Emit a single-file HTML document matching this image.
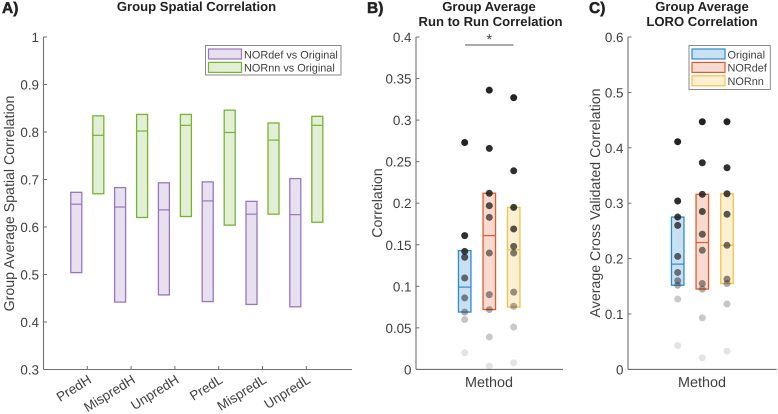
<!DOCTYPE html>
<html>
<head>
<meta charset="utf-8">
<style>
html,body{margin:0;padding:0;background:#fff;}
svg{display:block;font-family:"Liberation Sans",sans-serif;text-rendering:geometricPrecision;filter:blur(0.3px);}
</style>
</head>
<body>
<svg id="fig" xmlns="http://www.w3.org/2000/svg" width="778" height="414" viewBox="0 0 778 414"></svg>
<script>
const conditions = ['PredH','MispredH','UnpredH','PredL','MispredL','UnpredL'];
const defLow = [0.504,0.442,0.457,0.443,0.437,0.432];
const defMed = [0.648,0.642,0.636,0.655,0.627,0.626];
const defHigh = [0.673,0.683,0.693,0.695,0.654,0.702];
const nnLow = [0.670,0.620,0.622,0.604,0.627,0.610];
const nnMed = [0.793,0.802,0.814,0.799,0.783,0.814];
const nnHigh = [0.834,0.837,0.837,0.846,0.819,0.833];
const aTicks = [0.3,0.4,0.5,0.6,0.7,0.8,0.9,1];
const aTickLabels = ['0.3','0.4','0.5','0.6','0.7','0.8','0.9','1'];

const bTicks = [0,0.05,0.1,0.15,0.2,0.25,0.3,0.35,0.4];
const bTickLabels = ['0','0.05','0.1','0.15','0.2','0.25','0.3','0.35','0.4'];
const bOriginal = [0.273,0.161,0.142,0.135,0.110,0.086,0.069,0.060,0.020];
const bNordef = [0.336,0.266,0.212,0.197,0.183,0.140,0.090,0.072,0.039,0.004];
const bNornn = [0.327,0.239,0.195,0.169,0.148,0.140,0.093,0.076,0.051,0.008];
const bBoxOriginal = [0.069,0.099,0.143];
const bBoxNordef = [0.072,0.161,0.212];
const bBoxNornn = [0.075,0.144,0.195];

const cTicks = [0,0.1,0.2,0.3,0.4,0.5,0.6];
const cTickLabels = ['0','0.1','0.2','0.3','0.4','0.5','0.6'];
const cOriginal = [0.411,0.304,0.275,0.260,0.204,0.175,0.160,0.152,0.127,0.043];
const cNordef = [0.447,0.373,0.316,0.285,0.244,0.215,0.155,0.145,0.093,0.021];
const cNornn = [0.447,0.364,0.317,0.280,0.224,0.163,0.155,0.118,0.033];
const cBoxOriginal = [0.152,0.190,0.275];
const cBoxNordef = [0.145,0.229,0.316];
const cBoxNornn = [0.155,0.224,0.317];

const svg = document.getElementById('fig');
const NS = 'http://www.w3.org/2000/svg';
const TXT = '#404040', AX = '#707070';
const PURPLE = {fill:'#e7e0ef',stroke:'#9a76bf'};
const GREEN = {fill:'#e3eed6',stroke:'#76b52f'};
const BLUE = {fill:'#c9e0f2',stroke:'#2b8dd1'};
const ORANGE = {fill:'#f8dbd0',stroke:'#e4592a'};
const YELLOW = {fill:'#fcf0d3',stroke:'#f5c147'};

function el(tag, attrs, text){
  const e = document.createElementNS(NS, tag);
  for(const k in attrs){ e.setAttribute(k, attrs[k]); }
  if(text !== undefined){ e.textContent = text; }
  svg.appendChild(e);
  return e;
}
function label(str, x, y, size, weight, anchor, name, extra){
  const e = el('text', Object.assign({x:x,y:y,'font-size':size,'font-weight':weight,'text-anchor':anchor,fill:weight==='bold'?'#222':TXT}, extra||{}), str);
  
  
  return e;
}
function axes(x0, x1, yBottom, yTop, ticks, tickLabels, scale, prefix){
  const ya = el('line',{x1:x0,x2:x0,y1:yTop,y2:yBottom,stroke:AX,'stroke-width':1.1});
  
  
  const xa = el('line',{x1:x0,x2:x1,y1:yBottom,y2:yBottom,stroke:AX,'stroke-width':1.1});
  
  
  ticks.forEach(function(t,i){
    const y = scale(t);
    const m = el('line',{x1:x0,x2:x0+3.5,y1:y,y2:y,stroke:AX,'stroke-width':1});
    
    
    label(tickLabels[i], x0-4.5, y+5, 13.4, 'normal', 'end', prefix + '-y-tick-label');
  });
}
function box(cx, w, low, med, high, scale, color, name){
  const yh = scale(high), yl = scale(low), ym = scale(med);
  const r = el('rect',{x:cx-w/2,y:yh,width:w,height:yl-yh,fill:color.fill,stroke:color.stroke,'stroke-width':1.3});
  
  
  const l = el('line',{x1:cx-w/2,x2:cx+w/2,y1:ym,y2:ym,stroke:color.stroke,'stroke-width':1.2});
  
  
}
function dots(cx, values, scale, name){
  const n = values.length;
  values.forEach(function(v,i){
    const rank = i/(n-1);
    const c = el('circle',{cx:cx,cy:scale(v),r:3.5,fill:'#1c1c1c','fill-opacity':(0.97-0.85*Math.pow(rank,1.3)).toFixed(3)});
    
    
  });
}
function legend(x, y, w, h, entries, prefix){
  const b = el('rect',{x:x,y:y,width:w,height:h,fill:'#fff',stroke:'#8a8a8a','stroke-width':1});
  
  
  entries.forEach(function(en,i){
    const sy = y + 3.5 + i*13.4;
    const s = el('rect',{x:x+3,y:sy,width:33,height:10,fill:en.color.fill,stroke:en.color.stroke,'stroke-width':1.2});
    
    
    label(en.text, x+38.5, sy+9.3, 10.9, 'normal', 'start', prefix + '-legend-entry');
  });
}

/* Panel A */
const aY = function(v){ return 369.5 - (v-0.3)/0.7*332.5; };
const aX = function(i){ return 87.3 + i*43.8; };
axes(43.5, 352, 369.5, 37, aTicks, aTickLabels, aY, 'panel-a');
conditions.forEach(function(c,i){
  const x = aX(i);
  const m = el('line',{x1:x,x2:x,y1:369.5,y2:366,stroke:AX,'stroke-width':1});
  
  
  label(c, x+5, 382, 13.4, 'normal', 'end', 'panel-a-x-tick-label', {transform:'rotate(-32 '+(x+5)+' 382)'});
  box(x-11, 11, defLow[i], defMed[i], defHigh[i], aY, PURPLE, 'nordef-'+c.toLowerCase());
  box(x+11, 11, nnLow[i], nnMed[i], nnHigh[i], aY, GREEN, 'nornn-'+c.toLowerCase());
});
legend(205.5, 45.5, 135.5, 29.5, [{text:'NORdef vs Original',color:PURPLE},{text:'NORnn vs Original',color:GREEN}], 'panel-a');
label('Group Spatial Correlation', 196.5, 11, 13.1, 'bold', 'middle', 'panel-a-title');
label('A)', 2, 13, 15.5, 'bold', 'start', 'panel-a-label', {stroke:'#222','stroke-width':0.5});
label('Group Average Spatial Correlation', 14, 203.5, 14.2, 'normal', 'middle', 'panel-a-y-axis-title', {transform:'rotate(-90 14 203.5)'});

/* Panel B */
const bY = function(v){ return 369.4 - v/0.4*332.4; };
const bCenters = [464.7,489.3,513.7];
axes(416, 563, 369.4, 37, bTicks, bTickLabels, bY, 'panel-b');
box(bCenters[0], 12.5, bBoxOriginal[0], bBoxOriginal[1], bBoxOriginal[2], bY, BLUE, 'b-original');
box(bCenters[1], 12.5, bBoxNordef[0], bBoxNordef[1], bBoxNordef[2], bY, ORANGE, 'b-nordef');
box(bCenters[2], 12.5, bBoxNornn[0], bBoxNornn[1], bBoxNornn[2], bY, YELLOW, 'b-nornn');
dots(bCenters[0], bOriginal, bY, 'b-original');
dots(bCenters[1], bNordef, bY, 'b-nordef');
dots(bCenters[2], bNornn, bY, 'b-nornn');
const sig = el('line',{x1:465,x2:513.5,y1:45,y2:45,stroke:'#555','stroke-width':1});


label('*', 489.3, 44.5, 15, 'normal', 'middle', 'significance-star');
label('Group Average', 489, 11, 13.1, 'bold', 'middle', 'panel-b-title-line-1');
label('Run to Run Correlation', 490.5, 26, 13.1, 'bold', 'middle', 'panel-b-title-line-2');
label('B)', 367, 13, 15.5, 'bold', 'start', 'panel-b-label', {stroke:'#222','stroke-width':0.5});
label('Correlation', 382, 203, 14.2, 'normal', 'middle', 'panel-b-y-axis-title', {transform:'rotate(-90 382 203)'});
label('Method', 489, 387, 14.4, 'normal', 'middle', 'panel-b-x-axis-title');

/* Panel C */
const cY = function(v){ return 369.4 - v/0.6*332.4; };
const cCenters = [677.7,702.3,727];
axes(628, 776.7, 369.4, 37, cTicks, cTickLabels, cY, 'panel-c');
box(cCenters[0], 12.5, cBoxOriginal[0], cBoxOriginal[1], cBoxOriginal[2], cY, BLUE, 'c-original');
box(cCenters[1], 12.5, cBoxNordef[0], cBoxNordef[1], cBoxNordef[2], cY, ORANGE, 'c-nordef');
box(cCenters[2], 12.5, cBoxNornn[0], cBoxNornn[1], cBoxNornn[2], cY, YELLOW, 'c-nornn');
dots(cCenters[0], cOriginal, cY, 'c-original');
dots(cCenters[1], cNordef, cY, 'c-nordef');
dots(cCenters[2], cNornn, cY, 'c-nornn');
legend(689, 45.5, 81.3, 44, [{text:'Original',color:BLUE},{text:'NORdef',color:ORANGE},{text:'NORnn',color:YELLOW}], 'panel-c');
label('Group Average', 702, 11, 13.1, 'bold', 'middle', 'panel-c-title-line-1');
label('LORO Correlation', 702, 26, 13.1, 'bold', 'middle', 'panel-c-title-line-2');
label('C)', 589, 13, 15.5, 'bold', 'start', 'panel-c-label', {stroke:'#222','stroke-width':0.5});
label('Average Cross Validated Correlation', 600, 203, 14.2, 'normal', 'middle', 'panel-c-y-axis-title', {transform:'rotate(-90 600 203)'});
label('Method', 702, 387, 14.4, 'normal', 'middle', 'panel-c-x-axis-title');
</script>
</body>
</html>
